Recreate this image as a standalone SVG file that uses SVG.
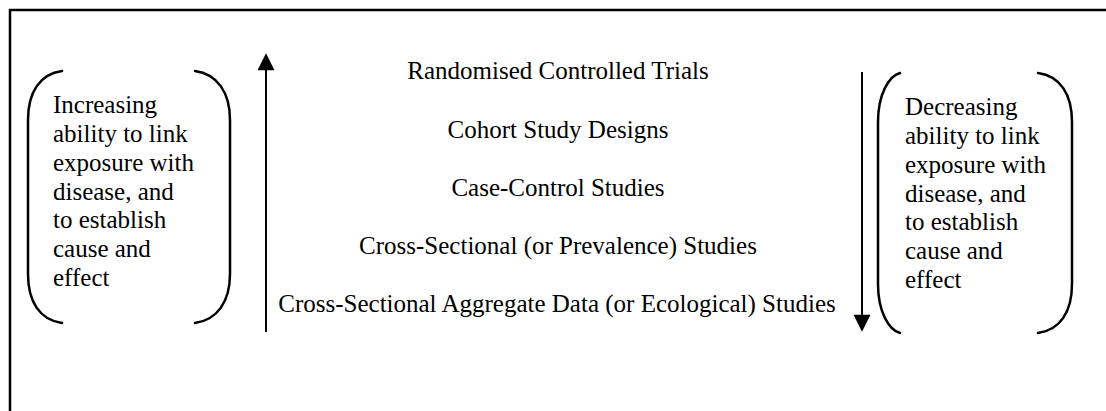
<svg xmlns="http://www.w3.org/2000/svg" width="1106" height="411" viewBox="0 0 1106 411">
<defs>
<style>
text{font-size:25px;fill:#000}
.c{text-anchor:middle}
.br{fill:none;stroke:#000;stroke-width:2.5;stroke-linecap:round}
.ln{stroke:#000;stroke-width:2;fill:none}
</style>
<marker id="ah2" viewBox="0 0 10 10" refX="9" refY="5" markerWidth="19" markerHeight="17" markerUnits="userSpaceOnUse" orient="auto">
<path d="M0,0 L10,5 L0,10 z" fill="#000"/>
</marker>
</defs>
<rect width="1106" height="411" fill="#fff"/>
<path d="M10,411 L10,10 L1106,10" fill="none" stroke="#000" stroke-width="2.5"/>

<g id="left-note" font-family="Liberation Serif, serif">
<path class="br" d="M62,71 C40,74 28,92 28,120 L28,274 C28,302 40,320 62,323"/>
<path class="br" d="M195,71 C217,74 230,92 230,120 L230,274 C230,302 217,320 195,323"/>
<text x="53" y="113">Increasing</text>
<text x="53" y="142">ability to link</text>
<text x="53" y="171">exposure with</text>
<text x="53" y="200">disease, and</text>
<text x="53" y="228">to establish</text>
<text x="53" y="257">cause and</text>
<text x="53" y="286">effect</text>
</g>

<g id="study-list" font-family="Liberation Serif, serif">
<text class="c" x="558" y="79">Randomised Controlled Trials</text>
<text class="c" x="558" y="138">Cohort Study Designs</text>
<text class="c" x="558" y="196">Case-Control Studies</text>
<text class="c" x="558" y="254">Cross-Sectional (or Prevalence) Studies</text>
<text class="c" x="557" y="312">Cross-Sectional Aggregate Data (or Ecological) Studies</text>
</g>

<g id="right-note" font-family="Liberation Serif, serif">
<path class="br" d="M900,73 C889,76 878,94 878,122 L878,284 C878,312 889,330 900,333"/>
<path class="br" d="M1038,73 C1060,76 1072,94 1072,122 L1072,284 C1072,312 1060,330 1038,333"/>
<text x="905" y="115">Decreasing</text>
<text x="905" y="144">ability to link</text>
<text x="905" y="173">exposure with</text>
<text x="905" y="202">disease, and</text>
<text x="905" y="230">to establish</text>
<text x="905" y="259">cause and</text>
<text x="905" y="288">effect</text>
</g>

<g id="connectors">
<line class="ln" x1="266" y1="332" x2="266" y2="55" marker-end="url(#ah2)"/>
<line class="ln" x1="862" y1="72" x2="862" y2="330" marker-end="url(#ah2)"/>
</g>
</svg>
